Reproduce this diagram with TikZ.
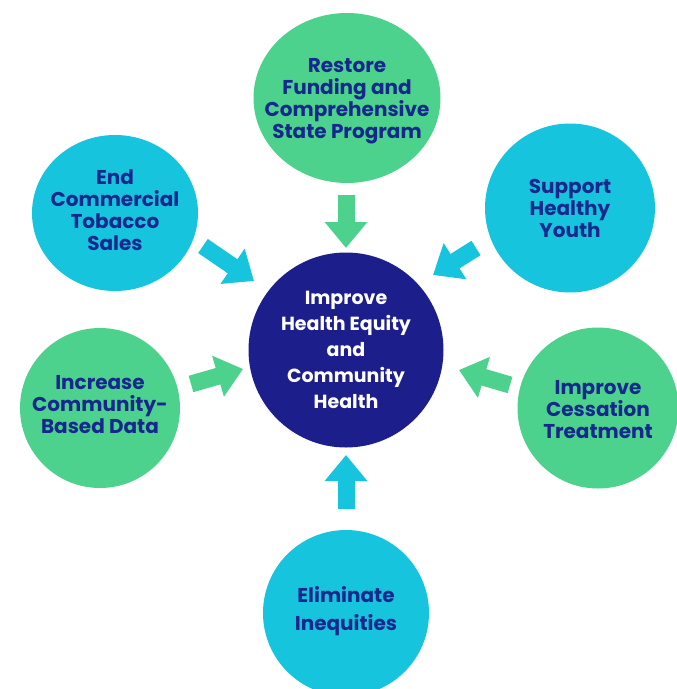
\documentclass[tikz,border=0pt]{standalone}
\usepackage{fontspec}
\setmainfont{Poppins}
\usetikzlibrary{shapes.geometric,arrows.meta}
\definecolor{cgreen}{RGB}{76,210,140}
\definecolor{ccyan}{RGB}{22,196,222}
\definecolor{cnavy}{RGB}{28,30,140}
\definecolor{ctext}{RGB}{22,40,140}
\tikzset{
  bubble/.style={ellipse, inner sep=0pt},
  greenb/.style={bubble, fill=cgreen},
  cyanb/.style={bubble, fill=ccyan},
  btext/.style={inner sep=0pt, align=center, text=ctext,
    font=\bfseries\fontsize{20}{22}\selectfont},
  hub/.style={circle, fill=cnavy, inner sep=0pt, minimum size=195pt},
  hubtext/.style={inner sep=0pt, align=center, text=white,
    font=\bfseries\fontsize{19}{26}\selectfont},
  blockarrow/.style={line width=17pt, -{Triangle[length=26pt,width=41pt]}},
  garrow/.style={blockarrow, draw=cgreen},
  carrow/.style={blockarrow, draw=ccyan}
}
\begin{document}
\begin{tikzpicture}[x=1pt,y=-1pt]
\useasboundingbox (0,0) rectangle (677,689);
\fill[white] (0,0) rectangle (677,689);
% hub
\node[hub] (hub) at (346,350) {};
\node[hubtext] (hubt) at (hub.center) {Improve\\Health Equity\\and\\Community\\Health};
% outer bubbles
\node[greenb, minimum width=187pt, minimum height=170pt] (restore) at (347,98) {};
\node[btext] (restoret) at ([yshift=-3pt]restore.center) {Restore\\Funding and\\Comprehensive\\State Program};
\node[cyanb, minimum width=166pt, minimum height=156pt] (endc) at (115,213) {};
\node[btext] (endct) at ([yshift=3pt]endc.center) {End\\Commercial\\Tobacco\\Sales};
\node[cyanb, minimum width=170pt, minimum height=169pt] (youth) at (570,208) {};
\node[btext] (youtht) at (youth.center) {Support\\Healthy\\Youth};
\node[greenb, minimum width=160pt, minimum height=160pt] (data) at (100,408) {};
\node[btext] (datat) at ([yshift=3pt]data.center) {Increase\\Community-\\Based Data};
\node[greenb, minimum width=161pt, minimum height=161pt] (cess) at (598,408) {};
\node[btext] (cesst) at ([yshift=-1.5pt]cess.center) {Improve\\Cessation\\Treatment};
\node[cyanb, minimum width=166pt, minimum height=166pt] (elim) at (346,613) {};
\node[btext, font=\bfseries\fontsize{20}{28}\selectfont] (elimt) at ([yshift=2pt]elim.center)
  {Eliminate\\Inequities};
% arrow ends
\coordinate (a1t) at (346,195); \coordinate (a1h) at (346,248);
\coordinate (a2t) at (203,246); \coordinate (a2h) at (254,281);
\coordinate (a3t) at (476,248); \coordinate (a3h) at (433,275);
\coordinate (a4t) at (191,384); \coordinate (a4h) at (243,369);
\coordinate (a5t) at (510,385); \coordinate (a5h) at (459,370);
\coordinate (a6t) at (346,509); \coordinate (a6h) at (346,455);
\draw[garrow] (a1t) -- (a1h);
\draw[carrow] (a2t) -- (a2h);
\draw[carrow] (a3t) -- (a3h);
\draw[garrow] (a4t) -- (a4h);
\draw[garrow] (a5t) -- (a5h);
\draw[carrow] (a6t) -- (a6h);
\end{tikzpicture}
\end{document}
